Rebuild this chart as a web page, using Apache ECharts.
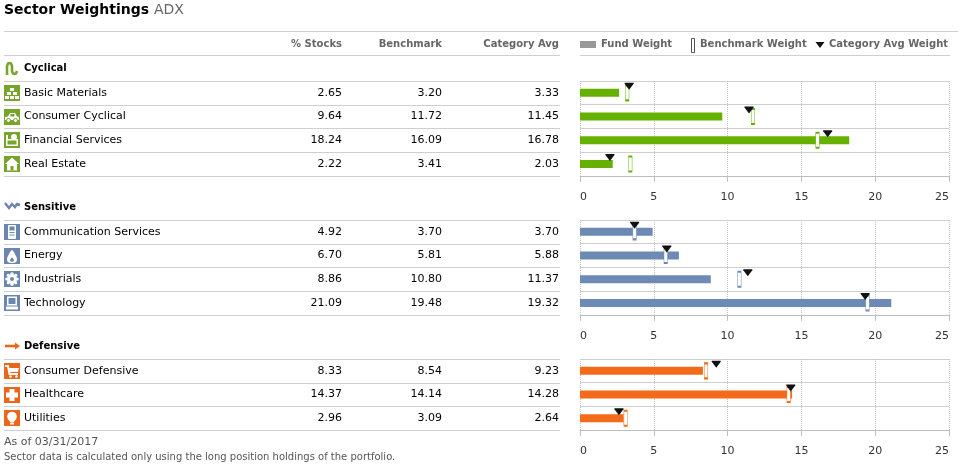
<!DOCTYPE html>
<html>
<head>
<meta charset="utf-8">
<title>Sector Weightings ADX</title>
<script src="https://cdn.jsdelivr.net/npm/echarts@6/dist/echarts.min.js"></script>
<style>
  html, body { margin: 0; padding: 0; background: #fff; }
  #chart { width: 961px; height: 468px; }
</style>
</head>
<body>
<div id="chart"></div>
<script>
const groupNames = ['Cyclical', 'Sensitive', 'Defensive'];

const cyclicalSectors = ['Basic Materials', 'Consumer Cyclical', 'Financial Services', 'Real Estate'];
const cyclicalStocks = [2.65, 9.64, 18.24, 2.22];
const cyclicalBenchmark = [3.20, 11.72, 16.09, 3.41];
const cyclicalCategoryAvg = [3.33, 11.45, 16.78, 2.03];

const sensitiveSectors = ['Communication Services', 'Energy', 'Industrials', 'Technology'];
const sensitiveStocks = [4.92, 6.70, 8.86, 21.09];
const sensitiveBenchmark = [3.70, 5.81, 10.80, 19.48];
const sensitiveCategoryAvg = [3.70, 5.88, 11.37, 19.32];

const defensiveSectors = ['Consumer Defensive', 'Healthcare', 'Utilities'];
const defensiveStocks = [8.33, 14.37, 2.96];
const defensiveBenchmark = [8.54, 14.14, 3.09];
const defensiveCategoryAvg = [9.23, 14.28, 2.64];

const columnHeaders = ['% Stocks', 'Benchmark', 'Category Avg'];
const legendLabels = ['Fund Weight', 'Benchmark Weight', 'Category Avg Weight'];
const axisMin = 0;
const axisMax = 25;
const axisStep = 5;

const FONT = '"DejaVu Sans", Verdana, sans-serif';
const GRID_LEFT = 580;
const GRID_RIGHT = 12;
const ROW_H = 23.7;
const GROUP_TOPS = [81, 220, 359];
const BAR_COLORS = ['#66b100', '#6d8ab5', '#f46a1b'];
const ICON_COLORS = ['#77a52b', '#6b87b0', '#e9661b'];
const VALUE_RIGHT = [342, 442, 559];

const groups = [
    { sectors: cyclicalSectors, stocks: cyclicalStocks, bench: cyclicalBenchmark, cat: cyclicalCategoryAvg,
      icons: ['bricks', 'car', 'register', 'house'] },
    { sectors: sensitiveSectors, stocks: sensitiveStocks, bench: sensitiveBenchmark, cat: sensitiveCategoryAvg,
      icons: ['phone', 'flame', 'gear', 'computer'] },
    { sectors: defensiveSectors, stocks: defensiveStocks, bench: defensiveBenchmark, cat: defensiveCategoryAvg,
      icons: ['cart', 'cross', 'bulb'] }
];

function hline(x1, x2, y, color) {
    const yy = Math.round(y) + 0.5;
    return { type: 'line', silent: true, shape: { x1, y1: yy, x2, y2: yy }, style: { stroke: color || '#cfcfcf', lineWidth: 1 } };
}

function text(str, x, y, opts = {}) {
    return {
        type: 'text', silent: true, x, y,
        style: {
            text: str,
            font: `${opts.weight || 'normal'} ${opts.size || 11}px ${FONT}`,
            fill: opts.color || '#000',
            align: opts.align || 'left',
            verticalAlign: 'middle'
        }
    };
}

// white glyph drawn on a 16x16 coloured square
function glyph(kind, bg) {
    const W = { fill: '#fff' };
    const B = { fill: bg };
    switch (kind) {
    case 'bricks':
        return [[6, 3, 4, 3], [3, 7, 4, 3], [9, 7, 4, 3], [1, 11, 4, 3], [6, 11, 4, 3], [11, 11, 4, 3]]
            .map(([x, y, w, h]) => ({ type: 'rect', shape: { x, y, width: w, height: h }, style: W }));
    case 'car':
        return [
            { type: 'polygon', shape: { points: [[1, 11], [1, 8], [4, 7.5], [6, 4], [11, 4], [13, 7.5], [15, 8], [15, 11]] }, style: W },
            { type: 'rect', shape: { x: 6.5, y: 5, width: 4, height: 2.5 }, style: B },
            { type: 'circle', shape: { cx: 4.5, cy: 11.5, r: 2 }, style: { fill: '#fff', stroke: bg, lineWidth: 1 } },
            { type: 'circle', shape: { cx: 11.5, cy: 11.5, r: 2 }, style: { fill: '#fff', stroke: bg, lineWidth: 1 } }
        ];
    case 'register':
        return [
            { type: 'rect', shape: { x: 2, y: 7, width: 12, height: 7 }, style: W },
            { type: 'rect', shape: { x: 3.5, y: 8.5, width: 9, height: 4 }, style: B },
            { type: 'circle', shape: { cx: 10, cy: 5, r: 3 }, style: W },
            { type: 'rect', shape: { x: 2, y: 3, width: 2, height: 5 }, style: W }
        ];
    case 'house':
        return [
            { type: 'polygon', shape: { points: [[8, 1.5], [15, 8], [13, 8], [13, 14.5], [3, 14.5], [3, 8], [1, 8]] }, style: W },
            { type: 'rect', shape: { x: 6.5, y: 10, width: 3, height: 4.5 }, style: B }
        ];
    case 'phone':
        return [
            { type: 'rect', shape: { x: 4, y: 1, width: 8, height: 14, r: 1 }, style: W },
            { type: 'rect', shape: { x: 5.5, y: 2.5, width: 5, height: 4 }, style: B },
            { type: 'rect', shape: { x: 5.5, y: 8, width: 5, height: 1 }, style: B },
            { type: 'rect', shape: { x: 5.5, y: 10.5, width: 5, height: 1 }, style: B }
        ];
    case 'flame':
        return [
            { type: 'polygon', shape: { points: [[8, 2], [12, 8], [13, 11], [12, 14], [8, 15], [4, 14], [3, 11], [4, 8]], smooth: 0.3 }, style: W },
            { type: 'polygon', shape: { points: [[8, 9.5], [10, 12.5], [8, 14], [6, 12.5]], smooth: 0.3 }, style: B }
        ];
    case 'gear': {
        const teeth = [];
        for (let i = 0; i < 8; i++) {
            const a = i * Math.PI / 4;
            teeth.push({ type: 'circle', shape: { cx: 8 + 5.2 * Math.cos(a), cy: 8 + 5.2 * Math.sin(a), r: 1.6 }, style: W });
        }
        return teeth.concat([
            { type: 'circle', shape: { cx: 8, cy: 8, r: 5 }, style: W },
            { type: 'circle', shape: { cx: 8, cy: 8, r: 2 }, style: B }
        ]);
    }
    case 'computer':
        return [
            { type: 'rect', shape: { x: 3, y: 1.5, width: 10, height: 9 }, style: W },
            { type: 'rect', shape: { x: 4.5, y: 3, width: 7, height: 6 }, style: B },
            { type: 'rect', shape: { x: 2, y: 11.5, width: 12, height: 3 }, style: W }
        ];
    case 'cart':
        return [
            { type: 'polyline', shape: { points: [[1, 3], [4, 3], [5.5, 11], [14, 11]] }, style: { stroke: '#fff', lineWidth: 2, fill: null } },
            { type: 'polygon', shape: { points: [[4.5, 5], [15, 5], [14, 9], [5.2, 9]] }, style: W },
            { type: 'circle', shape: { cx: 6.5, cy: 13.5, r: 1.3 }, style: W },
            { type: 'circle', shape: { cx: 12.5, cy: 13.5, r: 1.3 }, style: W }
        ];
    case 'cross':
        return [
            { type: 'rect', shape: { x: 5.5, y: 2, width: 5, height: 12 }, style: W },
            { type: 'rect', shape: { x: 2, y: 5.5, width: 12, height: 5 }, style: W }
        ];
    case 'bulb':
        return [
            { type: 'circle', shape: { cx: 8, cy: 6.5, r: 4.8 }, style: W },
            { type: 'polygon', shape: { points: [[4.5, 9], [11.5, 9], [10, 12], [6, 12]] }, style: W },
            { type: 'rect', shape: { x: 6, y: 12.5, width: 4, height: 2 }, style: W }
        ];
    }
    return [];
}

function sectorIcon(kind, color, cy) {
    return {
        type: 'group', x: 4, y: Math.round(cy - 8), silent: true,
        children: [{ type: 'rect', shape: { x: 0, y: 0, width: 16, height: 16 }, style: { fill: color } }].concat(glyph(kind, color))
    };
}

function groupIcon(g, cy) {
    const c = ICON_COLORS[g];
    let children;
    if (g === 0) {
        children = [{ type: 'polyline',
            shape: { points: [[3, 15], [3, 6], [4, 3.5], [5.5, 3], [7, 3.5], [8, 6], [8, 11], [9, 13.5], [10.5, 14], [12, 13.5], [13, 11]] },
            style: { stroke: c, lineWidth: 2.6, fill: null } }];
    } else if (g === 1) {
        children = [{ type: 'polyline', shape: { points: [[1, 4], [5, 9], [8, 5], [11, 8], [13, 5], [16, 6]] },
            style: { stroke: c, lineWidth: 2.4, fill: null } }];
    } else {
        children = [
            { type: 'line', shape: { x1: 1, y1: 8, x2: 12, y2: 8 }, style: { stroke: c, lineWidth: 2.6 } },
            { type: 'polygon', shape: { points: [[11, 4.5], [16, 8], [11, 11.5]] }, style: { fill: c } }
        ];
    }
    return { type: 'group', x: 4, y: Math.round(cy - 8), silent: true, children };
}

function buildGraphics() {
    const els = [];
    // title
    els.push(text('Sector Weightings', 4, 10, { weight: 'bold', size: 14 }));
    els.push(text('ADX', 154, 10, { size: 14, color: '#666' }));
    els.push(hline(4, 958, 31, '#cfcfcf'));

    // column headers + legend
    columnHeaders.forEach((h, i) => els.push(text(h, VALUE_RIGHT[i], 44, { weight: 'bold', size: 10, color: '#666', align: 'right' })));
    els.push(hline(4, 560, 55));
    els.push(hline(580, 950, 55));
    els.push({ type: 'rect', silent: true, shape: { x: 580, y: 41, width: 16, height: 7 }, style: { fill: '#999' } });
    els.push(text(legendLabels[0], 601, 44, { weight: 'bold', size: 10, color: '#666' }));
    els.push({ type: 'rect', silent: true, shape: { x: 691.5, y: 38.5, width: 3, height: 14 }, style: { fill: '#fff', stroke: '#555', lineWidth: 1 } });
    els.push(text(legendLabels[1], 700, 44, { weight: 'bold', size: 10, color: '#666' }));
    els.push({ type: 'polygon', silent: true, shape: { points: [[815.5, 42], [824.5, 42], [820, 48]] }, style: { fill: '#111' } });
    els.push(text(legendLabels[2], 829, 44, { weight: 'bold', size: 10, color: '#666' }));

    groups.forEach((grp, g) => {
        const top = GROUP_TOPS[g];
        els.push(groupIcon(g, top - 13));
        els.push(text(groupNames[g], 24, top - 13, { weight: 'bold', size: 10 }));
        els.push(hline(4, 560, top));
        grp.sectors.forEach((name, r) => {
            const cy = top + (r + 0.5) * ROW_H;
            els.push(sectorIcon(grp.icons[r], ICON_COLORS[g], cy));
            els.push(text(name, 24, cy));
            [grp.stocks[r], grp.bench[r], grp.cat[r]].forEach((v, k) =>
                els.push(text(v.toFixed(2), VALUE_RIGHT[k], cy, { align: 'right' })));
            els.push(hline(4, 560, top + (r + 1) * ROW_H));
        });
    });

    els.push(text('As of 03/31/2017', 4, 442, { color: '#555' }));
    els.push(text('Sector data is calculated only using the long position holdings of the portfolio.', 4, 457, { size: 10, color: '#555' }));
    return els;
}

function buildOption() {
    const grid = [], xAxis = [], yAxis = [], series = [];
    groups.forEach((grp, g) => {
        grid.push({ left: GRID_LEFT, right: GRID_RIGHT, top: GROUP_TOPS[g], height: grp.sectors.length * ROW_H });
        xAxis.push({
            type: 'value', gridIndex: g, min: axisMin, max: axisMax, interval: axisStep,
            axisLine: { show: true, lineStyle: { color: '#bdbdbd', width: 1 } },
            axisTick: { show: true, length: 6, lineStyle: { color: '#bdbdbd' } },
            axisLabel: { color: '#333', fontSize: 11, fontFamily: FONT, margin: 13, padding: [3, 0, 0, 0],
                alignMinLabel: 'left', alignMaxLabel: 'right' },
            splitLine: { show: true, lineStyle: { color: '#c4c4c4', type: 'dotted' } }
        });
        yAxis.push({
            type: 'category', gridIndex: g, inverse: true, data: grp.sectors,
            axisLine: { show: false }, axisTick: { show: false }, axisLabel: { show: false },
            splitLine: { show: true, lineStyle: { color: '#cfcfcf', width: 1 } }
        });
        series.push({
            type: 'bar', xAxisIndex: g, yAxisIndex: g, data: grp.stocks, barWidth: 8,
            itemStyle: { color: BAR_COLORS[g] }, z: 2
        });
        series.push({
            type: 'scatter', xAxisIndex: g, yAxisIndex: g, z: 3,
            data: grp.bench.map((v, i) => [v, grp.sectors[i]]),
            symbol: 'rect', symbolSize: [3.5, 15],
            itemStyle: { color: '#fff', borderColor: BAR_COLORS[g], borderWidth: 1, opacity: 1 }
        });
        series.push({
            type: 'scatter', xAxisIndex: g, yAxisIndex: g, z: 4,
            data: grp.cat.map((v, i) => [v, grp.sectors[i]]),
            symbol: 'path://M0,0 L10,0 L10,1 L5,7 L0,1 Z', symbolSize: [9, 7], symbolOffset: [0, -6.5],
            itemStyle: { color: '#111', opacity: 1 }
        });
    });
    return {
        animation: false,
        backgroundColor: '#fff',
        textStyle: { fontFamily: FONT },
        grid, xAxis, yAxis, series,
        graphic: buildGraphics()
    };
}

const chart = echarts.init(document.getElementById('chart'), null, { renderer: 'canvas' });
chart.setOption(buildOption());
window.addEventListener('resize', () => chart.resize());
</script>
</body>
</html>
